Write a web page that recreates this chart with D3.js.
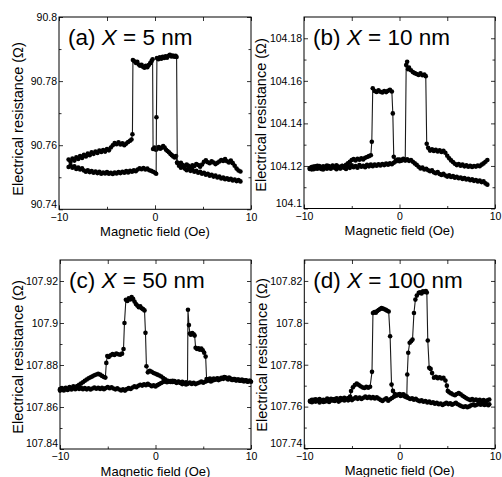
<!DOCTYPE html>
<html><head><meta charset="utf-8">
<script src="https://cdn.jsdelivr.net/npm/d3@7"></script>
<style>body{margin:0;background:#fff} text{font-family:"Liberation Sans",Arial,sans-serif;fill:#000}</style>
</head><body><svg id="c" width="502" height="477"></svg>
<script>
// ---- Data (field in Oe, resistance in Ohm) ----
const aSweep1 = [[-9.0,90.7555],[-8.8,90.7548],[-8.6,90.7558],[-8.4,90.7552],[-8.2,90.7562],[-8.0,90.7557],[-7.8,90.7566],[-7.6,90.7560],[-7.4,90.7570],[-7.2,90.7565],[-7.0,90.7574],[-6.8,90.7569],[-6.6,90.7578],[-6.4,90.7573],[-6.2,90.7580],[-6.0,90.7576],[-5.8,90.7583],[-5.6,90.7579],[-5.4,90.7585],[-5.2,90.7580],[-5.0,90.7588],[-4.8,90.7584],[-4.6,90.7593],[-4.4,90.7600],[-4.2,90.7607],[-4.0,90.7603],[-3.8,90.7609],[-3.6,90.7602],[-3.4,90.7606],[-3.2,90.7600],[-3.0,90.7605],[-2.8,90.7610],[-2.6,90.7614],[-2.45,90.7618],[-2.35,90.7634],[-2.3,90.7866],[-2.15,90.7862],[-2.0,90.7857],[-1.85,90.7860],[-1.7,90.7852],[-1.55,90.7848],[-1.4,90.7851],[-1.25,90.7845],[-1.1,90.7842],[-0.95,90.7848],[-0.8,90.7843],[-0.65,90.7850],[-0.5,90.7856],[-0.35,90.7863],[-0.25,90.7868],[-0.2,90.7588],[-0.05,90.7593],[0.1,90.7586],[0.25,90.7590],[0.4,90.7594],[0.55,90.7589],[0.7,90.7592],[0.85,90.7597],[1.0,90.7593],[1.15,90.7586],[1.3,90.7582],[1.45,90.7578],[1.6,90.7573],[1.75,90.7569],[1.9,90.7565],[2.05,90.7562],[2.2,90.7566],[2.3,90.7546],[2.5,90.7541],[2.7,90.7545],[2.9,90.7538],[3.1,90.7534],[3.3,90.7540],[3.5,90.7536],[3.7,90.7531],[3.9,90.7537],[4.1,90.7535],[4.3,90.7541],[4.5,90.7538],[4.7,90.7533],[4.9,90.7540],[5.1,90.7548],[5.3,90.7553],[5.5,90.7547],[5.7,90.7544],[5.9,90.7550],[6.1,90.7546],[6.3,90.7541],[6.5,90.7545],[6.7,90.7549],[6.9,90.7554],[7.1,90.7551],[7.3,90.7557],[7.5,90.7550],[7.7,90.7546],[7.9,90.7552],[8.1,90.7544],[8.3,90.7536],[8.5,90.7527],[8.7,90.7521],[8.9,90.7518]];
const aSweep2 = [[-9.0,90.7532],[-8.8,90.7537],[-8.6,90.7530],[-8.4,90.7534],[-8.2,90.7526],[-8.0,90.7530],[-7.8,90.7524],[-7.6,90.7528],[-7.4,90.7521],[-7.2,90.7517],[-7.0,90.7522],[-6.8,90.7516],[-6.6,90.7519],[-6.4,90.7514],[-6.2,90.7518],[-6.0,90.7513],[-5.8,90.7517],[-5.6,90.7511],[-5.4,90.7515],[-5.2,90.7512],[-5.0,90.7516],[-4.8,90.7511],[-4.6,90.7514],[-4.4,90.7510],[-4.2,90.7515],[-4.0,90.7512],[-3.8,90.7516],[-3.6,90.7513],[-3.4,90.7517],[-3.2,90.7514],[-3.0,90.7519],[-2.8,90.7515],[-2.6,90.7520],[-2.4,90.7517],[-2.2,90.7522],[-2.0,90.7519],[-1.8,90.7524],[-1.6,90.7528],[-1.4,90.7525],[-1.2,90.7529],[-1.0,90.7524],[-0.8,90.7527],[-0.6,90.7522],[-0.4,90.7520],[-0.2,90.7517],[0.0,90.7514],[0.12,90.7511],[0.15,90.7687],[0.2,90.7872],[0.35,90.7868],[0.5,90.7874],[0.65,90.7870],[0.8,90.7876],[0.95,90.7872],[1.1,90.7877],[1.25,90.7873],[1.4,90.7879],[1.55,90.7882],[1.7,90.7877],[1.85,90.7880],[2.0,90.7876],[2.15,90.7879],[2.25,90.7875],[2.32,90.7545],[2.5,90.7536],[2.7,90.7530],[2.9,90.7533],[3.1,90.7527],[3.3,90.7522],[3.5,90.7526],[3.7,90.7520],[3.9,90.7523],[4.1,90.7517],[4.3,90.7520],[4.5,90.7514],[4.7,90.7517],[4.9,90.7511],[5.1,90.7514],[5.3,90.7508],[5.5,90.7511],[5.7,90.7505],[5.9,90.7508],[6.1,90.7502],[6.3,90.7505],[6.5,90.7499],[6.7,90.7502],[6.9,90.7496],[7.1,90.7499],[7.3,90.7494],[7.5,90.7497],[7.7,90.7492],[7.9,90.7495],[8.1,90.7490],[8.3,90.7493],[8.5,90.7488],[8.7,90.7491],[8.9,90.7487]];

const bSweep1 = [[-9.4,104.1190],[-9.2,104.1184],[-9.0,104.1197],[-8.8,104.1188],[-8.6,104.1201],[-8.4,104.1192],[-8.2,104.1186],[-8.0,104.1198],[-7.8,104.1190],[-7.6,104.1202],[-7.4,104.1193],[-7.2,104.1187],[-7.0,104.1199],[-6.8,104.1191],[-6.6,104.1203],[-6.4,104.1194],[-6.2,104.1188],[-6.0,104.1200],[-5.8,104.1193],[-5.6,104.1205],[-5.4,104.1212],[-5.2,104.1220],[-5.0,104.1228],[-4.8,104.1232],[-4.6,104.1226],[-4.4,104.1234],[-4.2,104.1229],[-4.0,104.1236],[-3.8,104.1230],[-3.6,104.1238],[-3.4,104.1242],[-3.2,104.1246],[-3.0,104.1250],[-2.9,104.1314],[-2.8,104.1565],[-2.6,104.1552],[-2.4,104.1548],[-2.2,104.1555],[-2.0,104.1549],[-1.8,104.1545],[-1.6,104.1552],[-1.4,104.1547],[-1.2,104.1553],[-1.0,104.1558],[-0.8,104.1550],[-0.7,104.1447],[-0.6,104.1243],[-0.4,104.1225],[-0.2,104.1230],[0.0,104.1222],[0.2,104.1228],[0.4,104.1233],[0.6,104.1226],[0.8,104.1231],[1.0,104.1224],[1.2,104.1228],[1.4,104.1220],[1.6,104.1212],[1.8,104.1205],[2.0,104.1196],[2.2,104.1188],[2.4,104.1192],[2.6,104.1183],[2.8,104.1187],[3.0,104.1180],[3.2,104.1175],[3.4,104.1179],[3.6,104.1170],[3.8,104.1166],[4.0,104.1171],[4.2,104.1162],[4.4,104.1158],[4.6,104.1163],[4.8,104.1155],[5.0,104.1150],[5.2,104.1156],[5.4,104.1148],[5.6,104.1152],[5.8,104.1145],[6.0,104.1149],[6.2,104.1142],[6.4,104.1146],[6.6,104.1139],[6.8,104.1143],[7.0,104.1136],[7.2,104.1140],[7.4,104.1133],[7.6,104.1137],[7.8,104.1130],[8.0,104.1134],[8.2,104.1127],[8.4,104.1131],[8.6,104.1124],[8.8,104.1128],[9.0,104.1118],[9.2,104.1112]];
const bSweep2 = [[-9.4,104.1186],[-9.2,104.1195],[-9.0,104.1185],[-8.8,104.1198],[-8.6,104.1187],[-8.4,104.1200],[-8.2,104.1191],[-8.0,104.1183],[-7.8,104.1196],[-7.6,104.1187],[-7.4,104.1199],[-7.2,104.1190],[-7.0,104.1202],[-6.8,104.1194],[-6.6,104.1185],[-6.4,104.1197],[-6.2,104.1189],[-6.0,104.1201],[-5.8,104.1192],[-5.6,104.1186],[-5.4,104.1198],[-5.2,104.1191],[-5.0,104.1203],[-4.8,104.1194],[-4.6,104.1200],[-4.4,104.1192],[-4.2,104.1204],[-4.0,104.1196],[-3.8,104.1201],[-3.6,104.1194],[-3.4,104.1205],[-3.2,104.1198],[-3.0,104.1206],[-2.8,104.1199],[-2.6,104.1207],[-2.4,104.1201],[-2.2,104.1208],[-2.0,104.1202],[-1.8,104.1209],[-1.6,104.1204],[-1.4,104.1211],[-1.2,104.1206],[-1.0,104.1213],[-0.8,104.1208],[-0.6,104.1215],[-0.4,104.1221],[-0.2,104.1226],[0.0,104.1230],[0.2,104.1225],[0.4,104.1231],[0.6,104.1227],[0.7,104.1674],[0.8,104.1690],[0.9,104.1655],[1.0,104.1662],[1.2,104.1650],[1.4,104.1641],[1.6,104.1636],[1.8,104.1632],[2.0,104.1628],[2.2,104.1635],[2.4,104.1626],[2.6,104.1630],[2.75,104.1622],[2.85,104.1304],[3.0,104.1285],[3.2,104.1272],[3.4,104.1278],[3.6,104.1270],[3.8,104.1276],[4.0,104.1268],[4.2,104.1274],[4.4,104.1266],[4.6,104.1271],[4.8,104.1262],[5.0,104.1248],[5.2,104.1236],[5.4,104.1226],[5.6,104.1218],[5.8,104.1210],[6.0,104.1204],[6.2,104.1209],[6.4,104.1201],[6.6,104.1206],[6.8,104.1198],[7.0,104.1203],[7.2,104.1196],[7.4,104.1201],[7.6,104.1195],[7.8,104.1200],[8.0,104.1197],[8.2,104.1202],[8.4,104.1199],[8.6,104.1206],[8.8,104.1212],[9.0,104.1220],[9.2,104.1228]];

const cSweep1 = [[-10.0,107.8685],[-9.8,107.8690],[-9.6,107.8683],[-9.4,107.8692],[-9.2,107.8687],[-9.0,107.8695],[-8.8,107.8690],[-8.6,107.8698],[-8.4,107.8692],[-8.2,107.8700],[-8.0,107.8706],[-7.8,107.8712],[-7.6,107.8718],[-7.4,107.8725],[-7.2,107.8731],[-7.0,107.8737],[-6.8,107.8742],[-6.6,107.8746],[-6.4,107.8751],[-6.2,107.8755],[-6.0,107.8758],[-5.8,107.8754],[-5.6,107.8748],[-5.4,107.8743],[-5.25,107.8740],[-5.15,107.8810],[-5.05,107.8843],[-4.9,107.8838],[-4.7,107.8846],[-4.5,107.8852],[-4.3,107.8848],[-4.1,107.8855],[-3.9,107.8851],[-3.7,107.8849],[-3.5,107.8854],[-3.35,107.8876],[-3.25,107.9000],[-3.1,107.9111],[-2.95,107.9105],[-2.8,107.9118],[-2.65,107.9112],[-2.5,107.9123],[-2.35,107.9115],[-2.2,107.9102],[-2.05,107.9090],[-1.9,107.9083],[-1.75,107.9075],[-1.6,107.9080],[-1.45,107.9070],[-1.3,107.9066],[-1.15,107.9060],[-1.05,107.8953],[-0.95,107.8794],[-0.8,107.8765],[-0.6,107.8772],[-0.4,107.8768],[-0.2,107.8762],[0.0,107.8758],[0.2,107.8754],[0.4,107.8750],[0.6,107.8745],[0.8,107.8738],[1.0,107.8732],[1.2,107.8726],[1.4,107.8721],[1.6,107.8724],[1.8,107.8719],[2.0,107.8723],[2.2,107.8717],[2.4,107.8721],[2.6,107.8716],[2.8,107.8720],[3.0,107.8714],[3.2,107.8718],[3.4,107.8712],[3.6,107.8716],[3.8,107.8710],[4.0,107.8715],[4.2,107.8709],[4.4,107.8713],[4.6,107.8717],[4.8,107.8721],[5.0,107.8716],[5.2,107.8720],[5.4,107.8724],[5.6,107.8728],[5.8,107.8722],[6.0,107.8726],[6.2,107.8730],[6.4,107.8734],[6.6,107.8728],[6.8,107.8732],[7.0,107.8738],[7.2,107.8743],[7.4,107.8737],[7.6,107.8731],[7.8,107.8735],[8.0,107.8729],[8.2,107.8733],[8.4,107.8727],[8.6,107.8731],[8.8,107.8725],[9.0,107.8729],[9.2,107.8723],[9.4,107.8727],[9.6,107.8721],[9.8,107.8725],[10.0,107.8720]];
const cSweep2 = [[-10.0,107.8678],[-9.8,107.8684],[-9.6,107.8679],[-9.4,107.8686],[-9.2,107.8681],[-9.0,107.8688],[-8.8,107.8683],[-8.6,107.8690],[-8.4,107.8685],[-8.2,107.8692],[-8.0,107.8686],[-7.8,107.8691],[-7.6,107.8685],[-7.4,107.8690],[-7.2,107.8684],[-7.0,107.8689],[-6.8,107.8683],[-6.6,107.8688],[-6.4,107.8693],[-6.2,107.8687],[-6.0,107.8692],[-5.8,107.8686],[-5.6,107.8691],[-5.4,107.8685],[-5.2,107.8690],[-5.0,107.8695],[-4.8,107.8689],[-4.6,107.8694],[-4.4,107.8688],[-4.2,107.8684],[-4.0,107.8689],[-3.8,107.8683],[-3.6,107.8679],[-3.4,107.8684],[-3.2,107.8678],[-3.0,107.8685],[-2.8,107.8690],[-2.6,107.8686],[-2.4,107.8693],[-2.2,107.8698],[-2.0,107.8694],[-1.8,107.8701],[-1.6,107.8706],[-1.4,107.8702],[-1.2,107.8708],[-1.0,107.8704],[-0.8,107.8710],[-0.6,107.8705],[-0.4,107.8699],[-0.2,107.8703],[0.0,107.8698],[0.2,107.8704],[0.4,107.8709],[0.6,107.8714],[0.8,107.8719],[1.0,107.8723],[1.2,107.8718],[1.4,107.8724],[1.6,107.8719],[1.8,107.8725],[2.0,107.8720],[2.2,107.8715],[2.4,107.8720],[2.6,107.8714],[2.8,107.8709],[3.0,107.8713],[3.2,107.8707],[3.35,107.8711],[3.4,107.9063],[3.5,107.8990],[3.6,107.8950],[3.7,107.8944],[3.85,107.8952],[4.0,107.8946],[4.1,107.8940],[4.2,107.8882],[4.35,107.8876],[4.5,107.8880],[4.65,107.8873],[4.8,107.8878],[4.95,107.8870],[5.1,107.8858],[5.25,107.8840],[5.35,107.8733],[5.5,107.8729],[5.7,107.8735],[5.9,107.8730],[6.1,107.8736],[6.3,107.8731],[6.5,107.8737],[6.7,107.8733],[6.9,107.8739],[7.1,107.8734],[7.3,107.8742],[7.5,107.8736],[7.7,107.8740],[7.9,107.8734],[8.1,107.8729],[8.3,107.8733],[8.5,107.8727],[8.7,107.8731],[8.9,107.8725],[9.1,107.8729],[9.3,107.8723],[9.5,107.8727],[9.7,107.8721],[9.9,107.8725]];

const dSweep1 = [[-9.4,107.7628],[-9.2,107.7621],[-9.0,107.7632],[-8.8,107.7624],[-8.6,107.7630],[-8.4,107.7620],[-8.2,107.7627],[-8.0,107.7633],[-7.8,107.7625],[-7.6,107.7631],[-7.4,107.7622],[-7.2,107.7629],[-7.0,107.7635],[-6.8,107.7627],[-6.6,107.7633],[-6.4,107.7624],[-6.2,107.7630],[-6.0,107.7637],[-5.8,107.7629],[-5.6,107.7635],[-5.4,107.7641],[-5.2,107.7648],[-5.1,107.7674],[-4.9,107.7692],[-4.7,107.7703],[-4.5,107.7710],[-4.3,107.7704],[-4.1,107.7697],[-3.9,107.7692],[-3.7,107.7689],[-3.5,107.7694],[-3.3,107.7690],[-3.1,107.7695],[-2.9,107.7766],[-2.8,107.8047],[-2.65,107.8052],[-2.5,107.8048],[-2.35,107.8056],[-2.2,107.8061],[-2.05,107.8066],[-1.9,107.8070],[-1.75,107.8068],[-1.6,107.8065],[-1.45,107.8062],[-1.3,107.8058],[-1.15,107.8054],[-1.0,107.7936],[-0.85,107.7705],[-0.7,107.7675],[-0.5,107.7660],[-0.3,107.7654],[-0.1,107.7658],[0.1,107.7651],[0.3,107.7656],[0.5,107.7649],[0.7,107.7645],[0.9,107.7641],[1.1,107.7636],[1.3,107.7640],[1.5,107.7633],[1.7,107.7637],[1.9,107.7630],[2.1,107.7626],[2.3,107.7630],[2.5,107.7623],[2.7,107.7627],[2.9,107.7620],[3.1,107.7624],[3.3,107.7617],[3.5,107.7621],[3.7,107.7614],[3.9,107.7618],[4.1,107.7611],[4.3,107.7615],[4.5,107.7608],[4.7,107.7613],[4.9,107.7618],[5.1,107.7612],[5.3,107.7616],[5.5,107.7609],[5.7,107.7614],[5.9,107.7618],[6.1,107.7611],[6.3,107.7606],[6.5,107.7602],[6.7,107.7598],[6.9,107.7602],[7.1,107.7597],[7.3,107.7601],[7.5,107.7606],[7.7,107.7610],[7.9,107.7605],[8.1,107.7609],[8.3,107.7614],[8.5,107.7609],[8.7,107.7613],[8.9,107.7608],[9.1,107.7612],[9.3,107.7607],[9.4,107.7611]];
const dSweep2 = [[-9.4,107.7624],[-9.2,107.7633],[-9.0,107.7626],[-8.8,107.7635],[-8.6,107.7628],[-8.4,107.7636],[-8.2,107.7629],[-8.0,107.7622],[-7.8,107.7631],[-7.6,107.7638],[-7.4,107.7630],[-7.2,107.7637],[-7.0,107.7629],[-6.8,107.7636],[-6.6,107.7640],[-6.4,107.7633],[-6.2,107.7641],[-6.0,107.7634],[-5.8,107.7642],[-5.6,107.7636],[-5.4,107.7630],[-5.2,107.7637],[-5.0,107.7631],[-4.8,107.7638],[-4.6,107.7644],[-4.4,107.7637],[-4.2,107.7643],[-4.0,107.7636],[-3.8,107.7642],[-3.6,107.7648],[-3.4,107.7641],[-3.2,107.7647],[-3.0,107.7640],[-2.8,107.7646],[-2.6,107.7639],[-2.4,107.7645],[-2.2,107.7638],[-2.0,107.7632],[-1.8,107.7627],[-1.6,107.7634],[-1.4,107.7640],[-1.2,107.7628],[-1.0,107.7635],[-0.8,107.7641],[-0.6,107.7647],[-0.4,107.7652],[-0.2,107.7656],[0.0,107.7660],[0.2,107.7655],[0.4,107.7659],[0.6,107.7652],[0.75,107.7648],[0.8,107.7753],[0.9,107.7857],[1.05,107.7905],[1.2,107.7912],[1.35,107.7920],[1.5,107.8047],[1.65,107.8111],[1.8,107.8130],[2.0,107.8143],[2.15,107.8146],[2.3,107.8140],[2.45,107.8150],[2.6,107.8147],[2.75,107.8152],[2.85,107.8145],[2.95,107.7916],[3.1,107.7785],[3.25,107.7780],[3.4,107.7760],[3.6,107.7738],[3.8,107.7742],[4.0,107.7736],[4.2,107.7740],[4.4,107.7734],[4.6,107.7737],[4.8,107.7725],[4.95,107.7700],[5.05,107.7675],[5.2,107.7668],[5.4,107.7663],[5.6,107.7658],[5.8,107.7654],[6.0,107.7660],[6.2,107.7665],[6.4,107.7659],[6.6,107.7652],[6.8,107.7646],[7.0,107.7640],[7.2,107.7635],[7.4,107.7631],[7.6,107.7636],[7.8,107.7630],[8.0,107.7634],[8.2,107.7628],[8.4,107.7633],[8.6,107.7627],[8.8,107.7631],[9.0,107.7625],[9.2,107.7630],[9.4,107.7634]];

const panelTags = ["(a)", "(b)", "(c)", "(d)"];
const thicknesses = ["5", "10", "50", "100"];
const yDomains = [[90.74, 90.80], [104.10, 104.19], [107.84, 107.93], [107.74, 107.83]];
const yMajorTicks = [[90.74, 90.76, 90.78, 90.80], [104.10, 104.12, 104.14, 104.16, 104.18], [107.84, 107.86, 107.88, 107.90, 107.92], [107.74, 107.76, 107.78, 107.80, 107.82]];
const yTickLabels = [["90.74", "90.76", "90.78", "90.8"], ["104.1", "104.12", "104.14", "104.16", "104.18"], ["107.84", "107.86", "107.88", "107.9", "107.92"], ["107.74", "107.76", "107.78", "107.8", "107.82"]];
const yMinorTicks = [[90.75, 90.77, 90.79], [104.11, 104.13, 104.15, 104.17], [107.85, 107.87, 107.89, 107.91], [107.75, 107.77, 107.79, 107.81]];
const xDomain = [-10, 10];
const xMajorTicks = [-10, 0, 10];
const xTickLabels = ["\u221210", "0", "10"];
const xMinorTicks = [-5, 5];
const xTitle = "Magnetic field (Oe)";
const yTitle = "Electrical resistance (\u03A9)";
const sweeps = [[aSweep1, aSweep2], [bSweep1, bSweep2], [cSweep1, cSweep2], [dSweep1, dSweep2]];

// ---- Layout ----
const frames = [
  {x0: 59, x1: 251, y0: 17, y1: 209.3, ylx: 18, yly: 119},
  {x0: 304, x1: 495, y0: 17, y1: 208.5, ylx: 261, yly: 115},
  {x0: 60, x1: 251, y0: 260, y1: 449, ylx: 18, yly: 357},
  {x0: 304.3, x1: 495, y0: 260, y1: 448.5, ylx: 262, yly: 355}
];

const svg = d3.select("#c");
svg.append("rect").attr("width", 502).attr("height", 477).attr("fill", "#fff");

frames.forEach((f, i) => {
  const x = d3.scaleLinear().domain(xDomain).range([f.x0, f.x1]);
  const y = d3.scaleLinear().domain(yDomains[i]).range([f.y1, f.y0]);
  const g = svg.append("g");
  const tk = 4, tkm = 2.5;

  const bx = g.append("g").attr("transform", `translate(0,${f.y1})`)
    .call(d3.axisBottom(x).tickValues(xMajorTicks).tickSizeInner(-tk).tickSizeOuter(0)
      .tickPadding(4).tickFormat((d, k) => xTickLabels[k]));
  bx.selectAll("text").attr("font-size", 10.5).attr("dy", "0.71em");
  g.append("g").attr("transform", `translate(0,${f.y1})`)
    .call(d3.axisBottom(x).tickValues(xMinorTicks).tickSizeInner(-tkm).tickSizeOuter(0).tickFormat(""));
  g.append("g").attr("transform", `translate(0,${f.y0})`)
    .call(d3.axisTop(x).tickValues(xMajorTicks.concat(xMinorTicks)).tickSizeInner(-tk).tickSizeOuter(0).tickFormat(""));
  const ly = g.append("g").attr("transform", `translate(${f.x0},0)`)
    .call(d3.axisLeft(y).tickValues(yMajorTicks[i]).tickSizeInner(-tk).tickSizeOuter(0)
      .tickPadding(2).tickFormat((d, k) => yTickLabels[i][k]));
  ly.selectAll("text").attr("font-size", 10.5).attr("dy", (d, k) => k === 0 ? "-0.2em" : "0.32em");
  g.append("g").attr("transform", `translate(${f.x0},0)`)
    .call(d3.axisLeft(y).tickValues(yMinorTicks[i]).tickSizeInner(-tkm).tickSizeOuter(0).tickFormat(""));
  g.append("g").attr("transform", `translate(${f.x1},0)`)
    .call(d3.axisRight(y).tickValues(yMajorTicks[i]).tickSizeInner(-tk).tickSizeOuter(0).tickFormat(""));
  g.append("g").attr("transform", `translate(${f.x1},0)`)
    .call(d3.axisRight(y).tickValues(yMinorTicks[i]).tickSizeInner(-tkm).tickSizeOuter(0).tickFormat(""));
  g.selectAll(".domain").remove();
  g.selectAll(".tick line").attr("stroke", "#000").attr("stroke-width", 0.8);
  g.selectAll(".tick text").attr("fill", "#000").attr("font-family", "Liberation Sans, Arial, sans-serif");

  g.append("rect").attr("x", f.x0).attr("y", f.y0).attr("width", f.x1 - f.x0).attr("height", f.y1 - f.y0)
    .attr("fill", "none").attr("stroke", "#000").attr("stroke-width", 1);

  const line = d3.line().x(d => x(d[0])).y(d => y(d[1]));
  sweeps[i].forEach(s => {
    g.append("path").datum(s).attr("d", line).attr("fill", "none").attr("stroke", "#1a1a1a").attr("stroke-width", 1.1);
    g.append("g").selectAll("circle").data(s).join("circle")
      .attr("cx", d => x(d[0])).attr("cy", d => y(d[1])).attr("r", 2.3).attr("fill", "#000");
  });

  const t = g.append("text").attr("x", f.x0 + 9).attr("y", f.y0 + 28).attr("font-size", 22.5);
  t.append("tspan").text(panelTags[i] + " ");
  t.append("tspan").attr("font-style", "italic").text("X");
  t.append("tspan").text(" = " + thicknesses[i] + " nm");

  g.append("text").attr("x", (f.x0 + f.x1) / 2).attr("y", f.y1 + 26.5).attr("text-anchor", "middle")
    .attr("font-size", 13).text(xTitle);
  g.append("text").attr("transform", `translate(${f.ylx},${f.yly}) rotate(-90)`).attr("text-anchor", "middle")
    .attr("dy", "0.35em").attr("font-size", 14.5).text(yTitle);
});
</script></body></html>
